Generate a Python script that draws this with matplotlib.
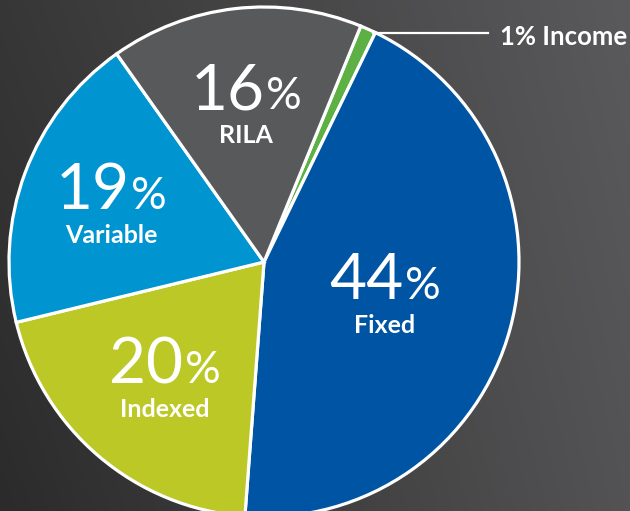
import numpy as np
import matplotlib.pyplot as plt
from matplotlib.offsetbox import TextArea, HPacker, VPacker, AnnotationBbox

# datos
categorias = ['Income', 'Fixed', 'Indexed', 'Variable', 'RILA']
porcentajes = [1, 44, 20, 19, 16]
colores = ['#5db043', '#0054a4', '#bcc825', '#0094d0', '#58595b']
# distancia de la etiqueta al centro (fraccion del radio), None = etiqueta externa
dist_etiqueta = [None, 0.49, 0.60, 0.64, 0.62]

fig = plt.figure(figsize=(6.3, 5.11), dpi=100)
ax = fig.add_axes([0, 0, 1, 1])

# fondo degradado
gx, gy = np.meshgrid(np.linspace(0, 1, 300), np.linspace(0, 1, 250))
t = np.clip(0.75 * gx + 0.25 * (1 - gy) + 0.1 * gy * gx, 0, 1)
c0 = np.array([0x2c, 0x2b, 0x2b]) / 255
c1 = np.array([0x5a, 0x5a, 0x5c]) / 255
img = c0 + (c1 - c0) * t[..., None]
ax.imshow(img, extent=(-264, 366, -249, 262), origin='upper', zorder=0, aspect='auto')

R = 255
wedges, _ = ax.pie(porcentajes, colors=colores, startangle=67.7, counterclock=False,
                   radius=R, center=(0, 0), frame=True,
                   wedgeprops=dict(edgecolor='white', linewidth=2.3))
for w in wedges:
    w.set_zorder(2)
ax.set_xlim(-264, 366)
ax.set_ylim(-249, 262)
ax.set_aspect('equal')
ax.axis('off')

# etiquetas dentro de las porciones
for w, cat, p, d in zip(wedges, categorias, porcentajes, dist_etiqueta):
    if d is None:
        continue
    ang = np.deg2rad((w.theta1 + w.theta2) / 2)
    x = d * R * np.cos(ang)
    y = d * R * np.sin(ang)
    num = TextArea(str(p), textprops=dict(color='white', fontsize=46, family='Lato', weight='normal'))
    pct = TextArea('%', textprops=dict(color='white', fontsize=32, family='Lato', weight='normal'))
    fila = HPacker(children=[num, pct], align='baseline', pad=0, sep=1)
    nombre = TextArea(cat, textprops=dict(color='white', fontsize=18, family='Lato', weight='bold'))
    caja = VPacker(children=[fila, nombre], align='center', pad=0, sep=3)
    ab = AnnotationBbox(caja, (x, y), frameon=False, box_alignment=(0.5, 0.5), zorder=5)
    ax.add_artist(ab)

# etiqueta externa de Income
w = wedges[0]
ang = np.deg2rad((w.theta1 + w.theta2) / 2)
x0 = R * np.cos(ang)
y0 = R * np.sin(ang)
ax.plot([x0 + 5, 224], [y0 - 4, y0 - 4], color='white', lw=1.6, zorder=3)
ax.text(236, y0 - 8, f'{porcentajes[0]}% {categorias[0]}', color='white', fontsize=18.5,
        family='Lato', weight='bold', ha='left', va='center', zorder=5)

fig.savefig('out.png', dpi=100)
